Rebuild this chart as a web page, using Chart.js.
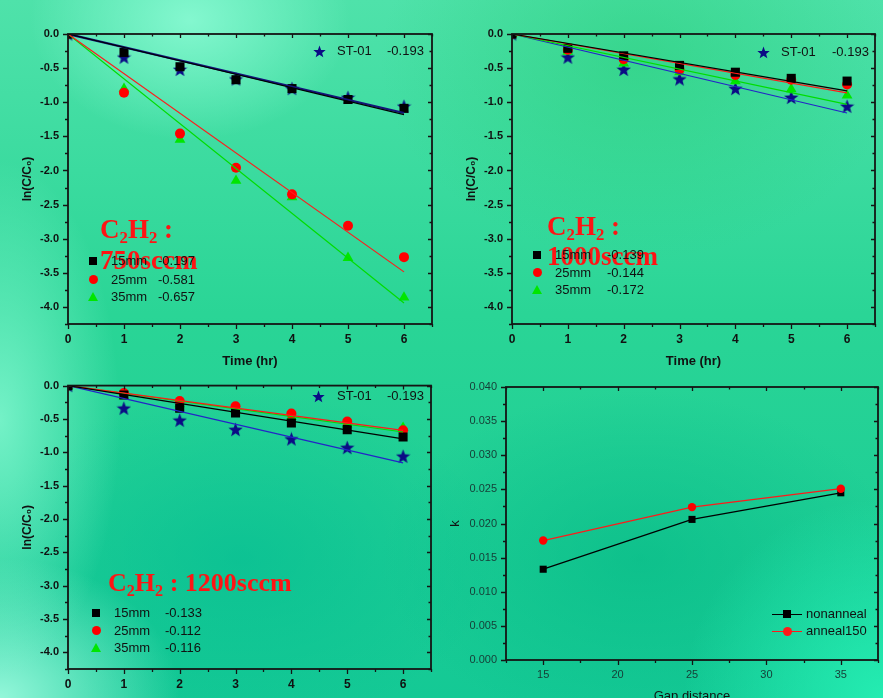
<!DOCTYPE html>
<html>
<head>
<meta charset="utf-8">
<script src="https://cdn.jsdelivr.net/npm/chart.js@4.4.1/dist/chart.umd.min.js"></script>
<style>
  html, body { margin: 0; padding: 0; }
  body {
    width: 883px; height: 698px; overflow: hidden; position: relative;
    font-family: 'Liberation Sans', Arial, sans-serif;
    background:
      radial-gradient(ellipse 160px 120px at 190px 20px, rgba(150,255,220,0.75), rgba(150,255,220,0) 100%),
      radial-gradient(ellipse 120px 260px at 0px 420px, rgba(150,255,220,0.7), rgba(150,255,220,0) 100%),
      radial-gradient(ellipse 180px 140px at 0px 698px, rgba(170,255,230,0.85), rgba(170,255,230,0) 100%),
      radial-gradient(ellipse 260px 200px at 640px 60px, rgba(40,205,120,0.55), rgba(40,205,120,0) 100%),
      radial-gradient(ellipse 200px 200px at 883px 698px, rgba(40,245,185,0.8), rgba(40,245,185,0) 100%),
      radial-gradient(ellipse 260px 170px at 240px 560px, rgba(0,185,145,0.55), rgba(0,185,145,0) 100%),
      radial-gradient(ellipse 260px 170px at 640px 560px, rgba(0,180,130,0.5), rgba(0,180,130,0) 100%),
      linear-gradient(180deg, #4fe2aa 0%, #2ad596 45%, #14c995 100%);
  }
  canvas { position: absolute; }
  .lg { position: absolute; font-size: 13px; color: #111; line-height: 16px; height: 16px; white-space: nowrap; }
  .mk { position: absolute; }
  .note {
    position: absolute; white-space: nowrap; color: #ff1414;
    font-family: 'Liberation Serif', 'Times New Roman', serif; font-weight: bold;
  }
  .note sub { font-size: 0.62em; vertical-align: -0.28em; line-height: 0; }
</style>
</head>
<body>
<canvas id="c750" width="441" height="370" style="left:0;top:0"></canvas>
<canvas id="c1000" width="442" height="370" style="left:441px;top:0"></canvas>
<canvas id="c1200" width="441" height="328" style="left:0;top:370px"></canvas>
<canvas id="cGap" width="442" height="336" style="left:441px;top:370px"></canvas>

<div class="note" style="left:100px;top:214px;font-size:27px;line-height:31px">C<sub>2</sub>H<sub>2</sub> :<br>750sccm</div>
<div class="note" style="left:547px;top:211px;font-size:27px;line-height:30px">C<sub>2</sub>H<sub>2</sub> :<br>1000sccm</div>
<div class="note" style="left:108px;top:570px;font-size:26px;line-height:26px">C<sub>2</sub>H<sub>2</sub> : 1200sccm</div>

<script>
// time axis (hr)
const hours = [0, 1, 2, 3, 4, 5, 6];

// tick labels
const timeTicks = [0, 1, 2, 3, 4, 5, 6];
const lnTicks = [0, -0.5, -1.0, -1.5, -2.0, -2.5, -3.0, -3.5, -4.0];
const gapTicks = [15, 20, 25, 30, 35];
const kTicks = [0, 0.005, 0.010, 0.015, 0.020, 0.025, 0.030, 0.035, 0.040];

// reference sample ST-01 (same in every panel)
const st01 = [0, -0.34, -0.52, -0.66, -0.80, -0.93, -1.06];
const st01Slope = -0.193;

const gapNames = ['15mm', '25mm', '35mm'];

// C2H2 750 sccm
const s750_15 = [0, -0.27, -0.48, -0.67, -0.80, -0.96, -1.09];
const s750_25 = [0, -0.86, -1.46, -1.96, -2.35, -2.81, -3.27];
const s750_35 = [0, -0.80, -1.55, -2.15, -2.39, -3.28, -3.86];
const slopes750 = [-0.197, -0.581, -0.657];

// C2H2 1000 sccm
const s1000_15 = [0, -0.21, -0.32, -0.46, -0.56, -0.65, -0.69];
const s1000_25 = [0, -0.23, -0.37, -0.52, -0.60, -0.67, -0.74];
const s1000_35 = [0, -0.26, -0.43, -0.56, -0.69, -0.81, -0.90];
const slopes1000 = [-0.139, -0.144, -0.172];

// C2H2 1200 sccm
const s1200_15 = [0, -0.14, -0.34, -0.41, -0.56, -0.66, -0.77];
const s1200_25 = [0, -0.11, -0.23, -0.31, -0.42, -0.54, -0.67];
const s1200_35 = [0, -0.16, -0.28, -0.36, -0.47, -0.58, -0.63];
const slopes1200 = [-0.133, -0.112, -0.116];

// k vs gap distance
const gapDist = [15, 25, 35];
const kNonanneal = [0.0133, 0.0206, 0.0245];
const kAnneal150 = [0.0175, 0.0224, 0.0251];

const markColors = ['#000000', '#ff0000', '#00e600'];
const lineColors = ['#000000', '#ff1a1a', '#00dd00'];
const markStyles = ['rect', 'circle', 'triangle'];
const markRadius = [6.4, 5, 6.2];
const starColor = '#0b0b85';

function makeStar(size, color) {
    const c = document.createElement('canvas');
    c.width = c.height = size;
    const g = c.getContext('2d');
    const r = size / 2, ri = r * 0.42;
    g.beginPath();
    for (let i = 0; i < 10; i++) {
        const rad = i % 2 ? ri : r;
        const a = -Math.PI / 2 + i * Math.PI / 5;
        g.lineTo(r + rad * Math.cos(a), r + 0.6 + rad * Math.sin(a));
    }
    g.closePath();
    g.fillStyle = color;
    g.fill();
    return c;
}
const starImg = makeStar(15, starColor);

// frame box with outer ticks on left/bottom and inner ticks on top/right
const framePlugin = {
    id: 'frame',
    afterDraw(chart, args, o) {
        const { ctx, chartArea: a } = chart;
        const xs = chart.scales.x, ys = chart.scales.y;
        ctx.save();
        ctx.strokeStyle = '#141414';
        ctx.lineWidth = 1.3;
        ctx.beginPath();
        const nx = Math.round((xs.max - xs.min) / o.xMinor);
        for (let i = 0; i <= nx; i++) {
            const v = xs.min + i * o.xMinor;
            const major = Math.abs(v / o.xMajor - Math.round(v / o.xMajor)) < 1e-6;
            const px = Math.round(xs.getPixelForValue(v)) + 0.5;
            ctx.moveTo(px, a.bottom); ctx.lineTo(px, a.bottom + (major ? 5 : 3));
            ctx.moveTo(px, a.top); ctx.lineTo(px, a.top + (major ? 4 : 2.5));
        }
        const ny = Math.round((ys.max - ys.min) / o.yMinor);
        for (let i = 0; i <= ny; i++) {
            const v = ys.min + i * o.yMinor;
            const major = Math.abs(v / o.yMajor - Math.round(v / o.yMajor)) < 1e-6;
            const py = Math.round(ys.getPixelForValue(v)) + 0.5;
            ctx.moveTo(a.left, py); ctx.lineTo(a.left - (major ? 5 : 3), py);
            ctx.moveTo(a.right, py); ctx.lineTo(a.right - (major ? 4 : 2.5), py);
        }
        ctx.stroke();
        ctx.lineWidth = 1.8;
        ctx.strokeRect(a.left, a.top, a.right - a.left, a.bottom - a.top);
        ctx.restore();
    }
};

function useTicks(list) {
    return (s) => { s.ticks = list.map(v => ({ value: v })); };
}

function fitLine(slope, color, width) {
    const tEnd = hours[hours.length - 1];
    return {
        type: 'line',
        data: [{ x: hours[0], y: 0 }, { x: tEnd, y: slope * tEnd }],
        borderColor: color,
        borderWidth: width,
        pointRadius: 0,
        fill: false
    };
}

function pointsOf(vals) {
    return vals.map((v, i) => ({ x: hours[i], y: v }));
}

function kineticChart(id, series, slopes, box) {
    const datasets = [];
    slopes.forEach((k, i) => datasets.push(fitLine(k, lineColors[i], 1.2)));
    datasets.push(fitLine(st01Slope, box.starLine, box.starLineW));
    series.forEach((vals, i) => {
        datasets.push({
            type: 'scatter',
            data: pointsOf(vals),
            pointStyle: markStyles[i],
            pointRadius: markRadius[i],
            backgroundColor: markColors[i],
            borderWidth: 0
        });
    });
    datasets.push({
        type: 'scatter',
        data: pointsOf(st01),
        pointStyle: starImg,
        pointRadius: 7
    });

    const tickFont = { family: "'Liberation Sans', Arial", size: 11, weight: 'bold' };
    return new Chart(document.getElementById(id), {
        type: 'scatter',
        data: { datasets: datasets },
        plugins: [framePlugin],
        options: {
            responsive: false,
            animation: false,
            devicePixelRatio: 1,
            layout: { padding: { left: 0, top: box.top, right: box.right, bottom: 0 } },
            plugins: {
                legend: { display: false },
                tooltip: { enabled: false },
                frame: { xMinor: 0.5, xMajor: 1, yMinor: 0.25, yMajor: 0.5 }
            },
            scales: {
                x: {
                    type: 'linear', min: 0, max: 6.5,
                    ticks: { padding: 8, color: '#111', font: { ...tickFont, size: 12 }, maxRotation: 0, autoSkip: false },
                    grid: { display: false, drawTicks: false },
                    border: { display: false },
                    afterBuildTicks: useTicks(timeTicks),
                    afterFit: (s) => { s.height = box.xh; },
                    title: {
                        display: box.xTitle, text: 'Time (hr)', color: '#111',
                        font: { family: "'Liberation Sans', Arial", size: 13, weight: 'bold' },
                        padding: { top: 0, bottom: 1 }
                    }
                },
                y: {
                    type: 'linear', min: -4.25, max: 0,
                    ticks: { padding: 9, color: '#111', font: tickFont, autoSkip: false, callback: v => v.toFixed(1) },
                    grid: { display: false, drawTicks: false },
                    border: { display: false },
                    afterBuildTicks: useTicks(lnTicks),
                    afterFit: (s) => { s.width = box.yw; },
                    title: {
                        display: true, text: 'ln(C/C\u2080)', color: '#111',
                        font: { family: "'Liberation Sans', Arial", size: 12, weight: 'bold' },
                        padding: { top: box.yTitlePad, bottom: 0 }
                    }
                }
            }
        }
    });
}

kineticChart('c750', [s750_15, s750_25, s750_35], slopes750,
    { top: 34, right: 9, xh: 46, yw: 68, yTitlePad: 20, xTitle: true, starLine: '#14147a', starLineW: 2.2 });
kineticChart('c1000', [s1000_15, s1000_25, s1000_35], slopes1000,
    { top: 34, right: 7, xh: 46, yw: 71, yTitlePad: 23, xTitle: true, starLine: '#2424c8', starLineW: 1.2 });
kineticChart('c1200', [s1200_15, s1200_25, s1200_35], slopes1200,
    { top: 9, right: 10, xh: 29, yw: 68, yTitlePad: 20, xTitle: false, starLine: '#2424c8', starLineW: 1.2 });

// k vs gap distance panel
new Chart(document.getElementById('cGap'), {
    type: 'line',
    data: {
        datasets: [
            {
                data: gapDist.map((g, i) => ({ x: g, y: kAnneal150[i] })),
                borderColor: '#ff1a1a', borderWidth: 1.2,
                pointStyle: 'circle', pointRadius: 4.2, pointBackgroundColor: '#ff0000', pointBorderWidth: 0
            },
            {
                data: gapDist.map((g, i) => ({ x: g, y: kNonanneal[i] })),
                borderColor: '#000', borderWidth: 1.3,
                pointStyle: 'rect', pointRadius: 5, pointBackgroundColor: '#000', pointBorderWidth: 0
            }
        ]
    },
    plugins: [framePlugin],
    options: {
        responsive: false,
        animation: false,
        devicePixelRatio: 1,
        layout: { padding: { left: 0, top: 17, right: 5, bottom: 0 } },
        plugins: {
            legend: { display: false },
            tooltip: { enabled: false },
            frame: { xMinor: 2.5, xMajor: 5, yMinor: 0.0025, yMajor: 0.005 }
        },
        scales: {
            x: {
                type: 'linear', min: 12.5, max: 37.5,
                ticks: { padding: 8, color: '#163c36', font: { family: "'Liberation Sans', Arial", size: 11 }, maxRotation: 0, autoSkip: false },
                grid: { display: false, drawTicks: false },
                border: { display: false },
                afterBuildTicks: useTicks(gapTicks),
                afterFit: (s) => { s.height = 46; },
                title: {
                    display: true, text: 'Gap distance', color: '#111',
                    font: { family: "'Liberation Sans', Arial", size: 13 },
                    padding: { top: 0, bottom: 2 }
                }
            },
            y: {
                type: 'linear', min: 0, max: 0.04,
                ticks: { padding: 9, color: '#163c36', font: { family: "'Liberation Sans', Arial", size: 11 }, autoSkip: false, callback: v => v.toFixed(3) },
                grid: { display: false, drawTicks: false },
                border: { display: false },
                afterBuildTicks: useTicks(kTicks),
                afterFit: (s) => { s.width = 65; },
                title: {
                    display: true, text: 'k', color: '#111',
                    font: { family: "'Liberation Sans', Arial", size: 13 },
                    padding: { top: 7, bottom: 0 }
                }
            }
        }
    }
});

// legends placed inside the plot frames
function addText(x, cy, text) {
    const d = document.createElement('div');
    d.className = 'lg';
    d.style.left = x + 'px';
    d.style.top = (cy - 8) + 'px';
    d.textContent = text;
    document.body.appendChild(d);
}

function addMarker(kind, cx, cy, color) {
    const d = document.createElement('div');
    d.className = 'mk';
    if (kind === 'rect') {
        Object.assign(d.style, { left: (cx - 4) + 'px', top: (cy - 4) + 'px', width: '8px', height: '8px', background: color });
    } else if (kind === 'circle') {
        Object.assign(d.style, { left: (cx - 4.5) + 'px', top: (cy - 4.5) + 'px', width: '9px', height: '9px', borderRadius: '50%', background: color });
    } else if (kind === 'triangle') {
        Object.assign(d.style, { left: (cx - 5) + 'px', top: (cy - 5) + 'px', width: 0, height: 0,
            borderLeft: '5px solid transparent', borderRight: '5px solid transparent', borderBottom: '9px solid ' + color });
    } else {
        const c = makeStar(13, color);
        c.style.left = (cx - 6.5) + 'px';
        c.style.top = (cy - 6.5) + 'px';
        d.appendChild(c);
        d.style.left = '0px'; d.style.top = '0px';
    }
    document.body.appendChild(d);
}

function gapLegend(mx, tx, vx, rows, slopes) {
    gapNames.forEach((name, i) => {
        addMarker(markStyles[i], mx, rows[i], markColors[i]);
        addText(tx, rows[i], name);
        addText(vx, rows[i], slopes[i].toFixed(3));
    });
}

function starLegend(mx, tx, vx, cy) {
    addMarker('star', mx, cy, starColor);
    addText(tx, cy, 'ST-01');
    addText(vx, cy, st01Slope.toFixed(3));
}

gapLegend(93, 111, 158, [261, 279.5, 297], slopes750);
gapLegend(537, 555, 607, [255, 272.5, 289.5], slopes1000);
gapLegend(96, 114, 165, [613, 630.5, 648], slopes1200);
starLegend(319, 337, 387, 51);
starLegend(763, 781, 832, 52);
starLegend(318, 337, 387, 396);

// k panel legend: line - marker - line
function lineLegend(cy, color, kind, label) {
    const ln = document.createElement('div');
    Object.assign(ln.style, { position: 'absolute', left: '772px', top: (cy - 0.5) + 'px', width: '30px', height: '1.3px', background: color });
    document.body.appendChild(ln);
    addMarker(kind, 787, cy, color);
    addText(806, cy, label);
}
lineLegend(614, '#000', 'rect', 'nonanneal');
lineLegend(631, '#ff1a1a', 'circle', 'anneal150');
</script>
</body>
</html>
